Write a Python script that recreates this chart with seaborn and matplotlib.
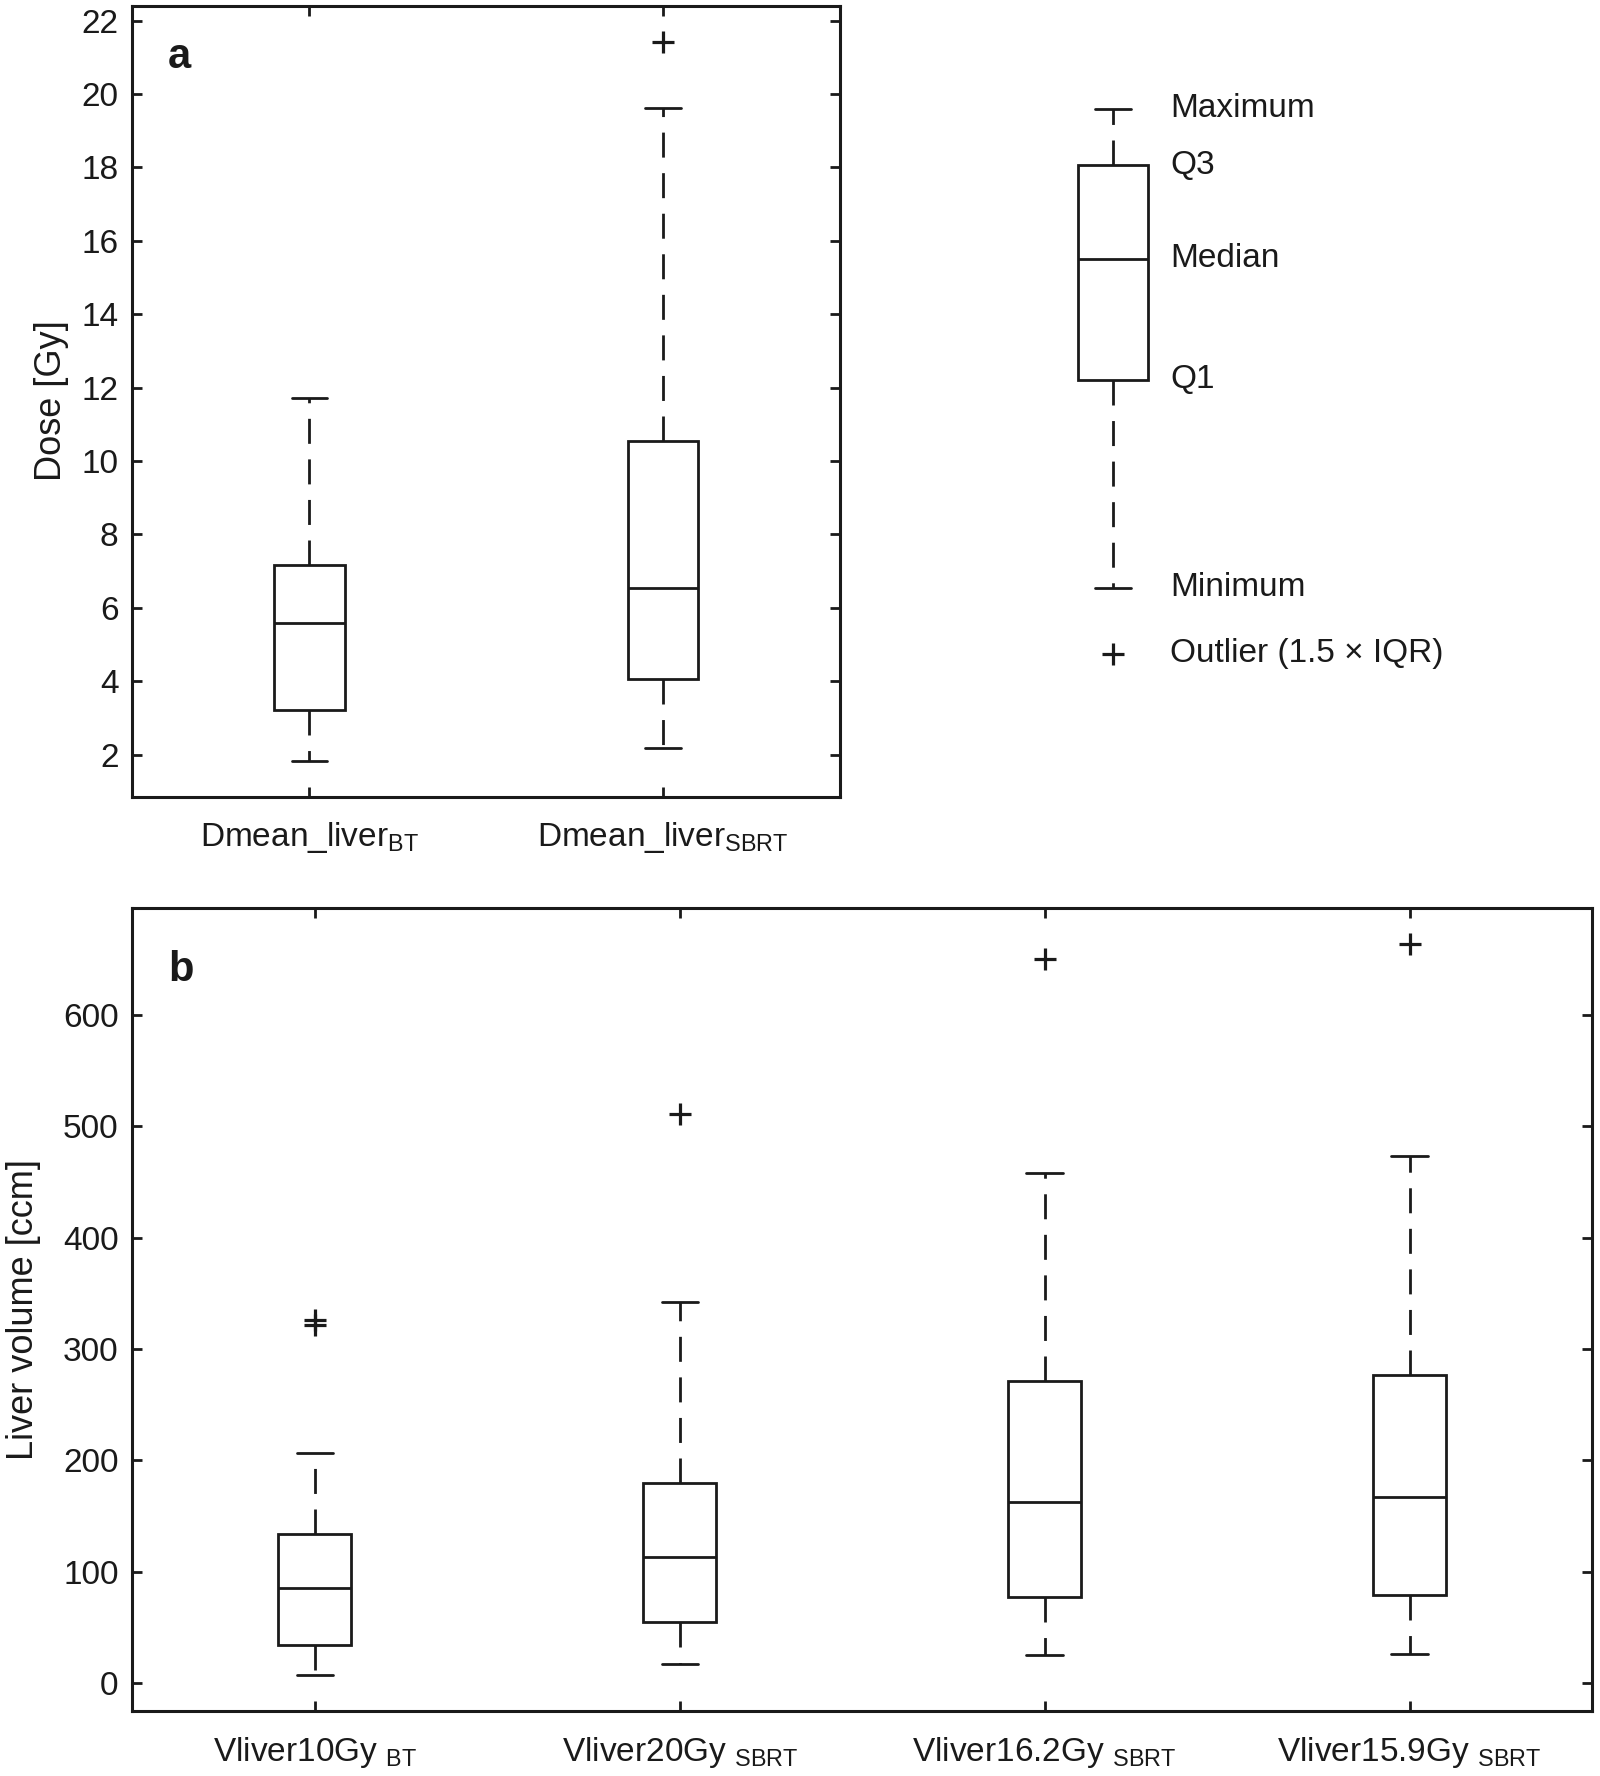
import matplotlib
matplotlib.use("Agg")
import matplotlib.pyplot as plt
import seaborn as sns
import pandas as pd

# panel a: mean liver dose [Gy]
dose_groups = ["Dmean_liver_BT", "Dmean_liver_SBRT"]
dose_labels = [r"Dmean_liver$_{\mathrm{BT}}$", r"Dmean_liver$_{\mathrm{SBRT}}$"]
dose_min = [1.82, 2.19]
dose_q1 = [3.21, 4.06]
dose_med = [5.60, 6.55]
dose_q3 = [7.16, 10.54]
dose_max = [11.71, 19.63]
dose_out = [[], [21.41]]

# panel b: liver volume [ccm]
vol_groups = ["Vliver10Gy_BT", "Vliver20Gy_SBRT", "Vliver16.2Gy_SBRT", "Vliver15.9Gy_SBRT"]
vol_labels = [r"Vliver10Gy ${}_{\mathrm{BT}}$", r"Vliver20Gy ${}_{\mathrm{SBRT}}$",
              r"Vliver16.2Gy ${}_{\mathrm{SBRT}}$", r"Vliver15.9Gy ${}_{\mathrm{SBRT}}$"]
vol_min = [7.5, 17.0, 25.0, 26.0]
vol_q1 = [34.0, 55.0, 77.5, 79.0]
vol_med = [85.0, 113.0, 162.5, 167.0]
vol_q3 = [133.5, 180.0, 271.5, 276.5]
vol_max = [206.5, 342.5, 458.0, 473.0]
vol_out = [[321.5, 326.5], [511.5], [650.0], [663.5]]

# key (legend) box, drawn on the dose scale
key_stats = [6.55, 12.22, 15.51, 18.06, 19.60]
key_names = ["Minimum", "Q1", "Median", "Q3", "Maximum"]
key_outlier = 4.75


def expand(lo, q1, med, q3, hi, out):
    # sample whose quartiles / whisker ends are exactly the read values
    m = len(out) + 1
    return [lo] + [q1] * m + [med] * m + [q3] * m + [hi] + list(out)


def long_frame(groups, mins, q1s, meds, q3s, maxs, outs):
    rows = []
    for g, a, b, c, d, e, o in zip(groups, mins, q1s, meds, q3s, maxs, outs):
        for v in expand(a, b, c, d, e, o):
            rows.append((g, v))
    return pd.DataFrame(rows, columns=["group", "value"])


sns.set_theme(style="ticks")
plt.rcParams["font.family"] = ["Liberation Sans", "DejaVu Sans"]
plt.rcParams["mathtext.fontset"] = "custom"
plt.rcParams["mathtext.rm"] = "Liberation Sans"
plt.rcParams["mathtext.it"] = "Liberation Sans:italic"
plt.rcParams["mathtext.bf"] = "Liberation Sans:bold"

FS = 24
LABEL_FS = 26
INK = "#1a1a1a"
box_kws = dict(
    width=0.2, color="white", linecolor=INK, linewidth=2,
    whiskerprops=dict(linestyle=(0, (9, 5.6))),
    flierprops=dict(marker="+", markersize=16, markeredgewidth=2.3,
                    markeredgecolor=INK),
)


def style_axes(ax):
    for s in ax.spines.values():
        s.set_visible(True)
        s.set_linewidth(2.2)
        s.set_color(INK)
    ax.tick_params(direction="in", top=True, right=True, length=7, width=2,
                   color=INK, labelsize=FS, labelcolor=INK)
    ax.tick_params(axis="x", pad=17)
    ax.tick_params(axis="y", pad=10)


fig = plt.figure(figsize=(16, 17.76), dpi=100)

# panel a
ax_a = fig.add_axes([0.0828, 0.5515, 0.4422, 0.4454])
df_a = long_frame(dose_groups, dose_min, dose_q1, dose_med, dose_q3, dose_max, dose_out)
sns.boxplot(data=df_a, x="group", y="value", order=dose_groups, ax=ax_a, **box_kws)
ax_a.set_xlim(-0.5, 1.5)
ax_a.set_ylim(0.86, 22.41)
ax_a.set_yticks(range(2, 23, 2))
ax_a.set_xticks(range(len(dose_groups)))
ax_a.set_xticklabels(dose_labels)
ax_a.set_xlabel("")
ax_a.set_ylabel("Dose [Gy]", fontsize=LABEL_FS, color=INK)
ax_a.yaxis.set_label_coords(-0.0897, 0.5)
style_axes(ax_a)
ax_a.text(0.066, 0.935, "a", transform=ax_a.transAxes, fontsize=30,
          fontweight="bold", ha="center", va="center", color=INK)

# key box to the right of panel a
ax_k = fig.add_axes([0.585, 0.5515, 0.22125, 0.4454])
sns.boxplot(y=expand(*key_stats, []), ax=ax_k, **box_kws)
ax_k.plot([0], [key_outlier], linestyle="none", marker="+", markersize=16,
          markeredgewidth=2.3, color=INK)
ax_k.set_xlim(-0.5, 0.5)
ax_k.set_ylim(0.86, 22.41)
ax_k.axis("off")
for val, name in zip(key_stats, key_names):
    ax_k.text(0.161, val, name, fontsize=FS, ha="left", va="center",
              color=INK, clip_on=False)
ax_k.text(0.161, key_outlier, "Outlier (1.5 × IQR)", fontsize=FS, ha="left",
          va="center", color=INK, clip_on=False)

# panel b
ax_b = fig.add_axes([0.0828, 0.0366, 0.9122, 0.4521])
df_b = long_frame(vol_groups, vol_min, vol_q1, vol_med, vol_q3, vol_max, vol_out)
sns.boxplot(data=df_b, x="group", y="value", order=vol_groups, ax=ax_b, **box_kws)
ax_b.set_xlim(-0.5, 3.5)
ax_b.set_ylim(-25, 696)
ax_b.set_yticks(range(0, 601, 100))
ax_b.set_xticks(range(len(vol_groups)))
ax_b.set_xticklabels(vol_labels)
ax_b.set_xlabel("")
ax_b.set_ylabel("Liver volume [ccm]", fontsize=LABEL_FS, color=INK)
ax_b.yaxis.set_label_coords(-0.0627, 0.5)
style_axes(ax_b)
ax_b.text(0.033, 0.923, "b", transform=ax_b.transAxes, fontsize=30,
          fontweight="bold", ha="center", va="center", color=INK)

fig.savefig("out.png", dpi=100, facecolor="white")
